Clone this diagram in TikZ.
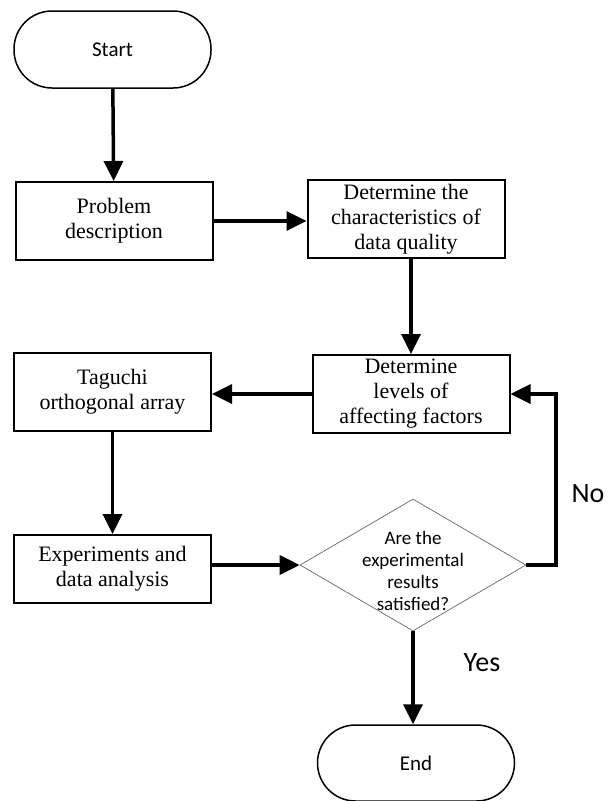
\documentclass[tikz,border=0pt]{standalone}
\usepackage{fontspec}
\setmainfont{Liberation Serif}
\newfontfamily\calfont{Carlito}
\usetikzlibrary{arrows.meta,shapes.geometric}
\begin{document}
\begin{tikzpicture}[x=1pt,y=1pt,
  term/.style={draw, line width=1.5pt, rounded corners=38pt, minimum width=197pt, minimum height=77pt, inner sep=0pt, font=\calfont\fontsize{21}{25}\selectfont},
  proc/.style={draw, line width=2pt, minimum width=197pt, minimum height=78pt, inner sep=0pt, align=center, font=\fontsize{22}{25}\selectfont},
  flow/.style={line width=3.5pt, -{Triangle[length=20pt,width=19pt]}},
  lbl/.style={font=\calfont\fontsize{28}{30}\selectfont, inner sep=0pt}]
\useasboundingbox (0,0) rectangle (614,-801);
\node[term] (start) at (112.5,-49.5) {Start};
\node[proc] (prob) at (114,-221) {Problem\\description};
\node[proc] (char) at (406,-219) {Determine the\\characteristics of\\data quality};
\node[proc] (lev) at (411,-394) {Determine\\levels of\\affecting factors};
\node[proc] (tag) at (112.5,-392) {Taguchi\\orthogonal array};
\node[proc, minimum height=68pt] (exp) at (112.5,-569) {Experiments and\\data analysis};
\node[draw=gray!80!black, line width=0.7pt, diamond, minimum width=226pt, minimum height=132pt, aspect=1.71, inner sep=0pt] (dia) at (413,-565) {};
\node[align=center, font=\calfont\fontsize{19}{22}\selectfont, inner sep=0pt] (diatext) at (413,-571) {Are the\\experimental\\results\\satisfied?};
\node[term, minimum height=76pt] (end) at (416,-763) {End};
\coordinate (corner1) at (556,-565);
\coordinate (corner2) at (556,-394);
\node[lbl] (no) at (588,-494) {No};
\node[lbl] (yes) at (482,-663) {Yes};
\draw[flow] (start) -- (prob);
\draw[flow] (prob.east) -- (prob.east -| char.west);
\draw[flow] (lev.north |- char.south) -- (lev.north);
\draw[flow] (lev.west) -- (lev.west -| tag.east);
\draw[flow] (tag) -- (exp);
\draw[flow] (exp.east |- dia.west) -- (dia.west);
\draw[flow] (dia.east) -- (corner1) -- (corner2) -- (lev.east);
\draw[flow] (dia.south) -- (dia.south |- end.north);
\end{tikzpicture}
\end{document}
